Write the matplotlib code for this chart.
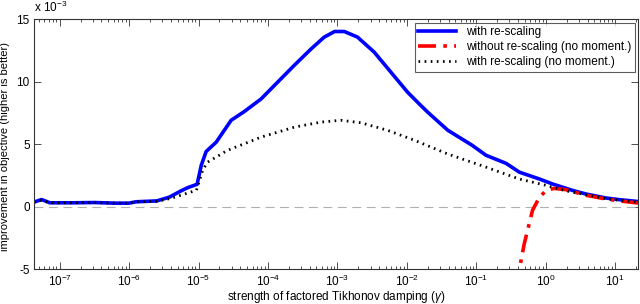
import numpy as np
import matplotlib
matplotlib.use("Agg")
import matplotlib.pyplot as plt
from matplotlib.ticker import FixedLocator, NullFormatter, LogFormatterMathtext

plt.rcParams['font.family'] = ['Liberation Sans', 'DejaVu Sans']
plt.rcParams['mathtext.fontset'] = 'custom'
plt.rcParams['mathtext.rm'] = 'Liberation Sans'
plt.rcParams['mathtext.it'] = 'Liberation Sans:italic'
plt.rcParams['axes.unicode_minus'] = False

# log10 of damping strength, and improvement in units of 1e-3
blue_logx = [-7.37, -7.26, -7.14, -6.8, -6.5, -6.2, -6.0, -5.9, -5.6, -5.42, -5.27,
             -5.16, -5.02, -4.96, -4.89, -4.745, -4.53, -4.34, -4.10, -3.86, -3.62,
             -3.38, -3.19, -3.04, -2.90, -2.71, -2.47, -2.23, -1.99, -1.82, -1.70,
             -1.41, -1.06, -0.86, -0.57, -0.38, -0.09, 0.10, 0.38, 0.58, 0.87,
             1.06, 1.33]
blue_y = [0.35, 0.56, 0.30, 0.30, 0.32, 0.27, 0.27, 0.38, 0.45, 0.75, 1.2,
          1.5, 1.78, 3.3, 4.4, 5.15, 6.9, 7.6, 8.6, 9.95, 11.3,
          12.6, 13.55, 14.0, 14.0, 13.55, 12.35, 10.75, 9.15, 8.2, 7.55,
          6.1, 4.9, 4.1, 3.45, 2.75, 2.2, 1.8, 1.3, 1.0, 0.68,
          0.55, 0.4]

red_logx = [-0.43, -0.31, -0.19, -0.09, 0.01, 0.12, 0.29, 0.58, 0.87, 1.06, 1.33]
red_y = [-6.5, -3.0, -0.3, 0.75, 1.3, 1.45, 1.35, 0.9, 0.6, 0.45, 0.28]

black_logx = [-7.37, -7.26, -7.14, -6.8, -6.5, -6.2, -6.0, -5.9, -5.6, -5.4, -5.2,
              -5.03, -4.94, -4.87, -4.58, -4.10, -3.62, -3.24, -2.95, -2.66, -2.28,
              -1.89, -1.41, -0.86, -0.38, 0.0, 0.19, 0.38, 0.58, 0.87, 1.06, 1.33]
black_y = [0.35, 0.5, 0.30, 0.30, 0.32, 0.27, 0.27, 0.38, 0.42, 0.65, 1.0,
           1.3, 2.9, 3.55, 4.5, 5.55, 6.35, 6.75, 6.9, 6.7, 6.1,
           5.3, 4.2, 3.15, 2.2, 1.7, 1.4, 1.15, 0.95, 0.62, 0.5, 0.35]

decades = list(range(-7, 2))
xmin, xmax = 10 ** -7.37, 10 ** 1.33

fig = plt.figure(figsize=(6.4, 3.04), dpi=100)
ax = fig.add_axes([0.053, 0.115, 0.944, 0.8225])

ax.axhline(0, color='#b0b0b0', lw=0.8, ls=(0, (8, 5)))
ax.plot(10 ** np.array(blue_logx), blue_y, color='#0000ff', lw=2.6, label='with re-scaling')
ax.plot(10 ** np.array(red_logx), red_y, color='#ff0000', lw=2.6, ls=(0, (5, 2, 1, 2)),
        label='without re-scaling (no moment.)')
ax.plot(10 ** np.array(black_logx), black_y, color='black', lw=2.0, ls=(0, (0.6, 1.6)),
        label='with re-scaling (no moment.)')

ax.set_xscale('log')
ax.set_xlim(xmin, xmax)
ax.set_ylim(-5, 15)
ax.set_yticks([-5, 0, 5, 10, 15])
ax.xaxis.set_major_locator(FixedLocator([10.0 ** d for d in decades]))
ax.xaxis.set_major_formatter(LogFormatterMathtext())
minors = [m * 10.0 ** d for d in range(-8, 2) for m in range(2, 10)]
ax.xaxis.set_minor_locator(FixedLocator([v for v in minors if xmin <= v <= xmax]))
ax.xaxis.set_minor_formatter(NullFormatter())
ax.tick_params(which='both', direction='in', top=True, right=True, labelsize=8.5,
               color='#333333', width=0.6)
ax.tick_params(which='major', length=5)
ax.tick_params(which='minor', length=2.5)
ax.tick_params(axis='y', pad=3)
for s in ax.spines.values():
    s.set_linewidth(0.8)
    s.set_color('#333333')

ax.set_xlabel(r'strength of factored Tikhonov damping ($\gamma$)', fontsize=8.5, labelpad=0)
ax.set_ylabel('improvement in objective (higher is better)', fontsize=8)
ax.yaxis.set_label_coords(-0.04, 0.49)
ax.text(0.0, 1.015, r'x 10$^{-3}$', transform=ax.transAxes, fontsize=8.5, va='bottom', ha='left')

leg = ax.legend(loc='upper right', fontsize=8.5, frameon=True, fancybox=False,
                edgecolor='#333333', handlelength=3.2, borderpad=0.3, labelspacing=0.25,
                borderaxespad=0.3)
leg.get_frame().set_linewidth(0.8)

fig.savefig('out.png', dpi=100)
